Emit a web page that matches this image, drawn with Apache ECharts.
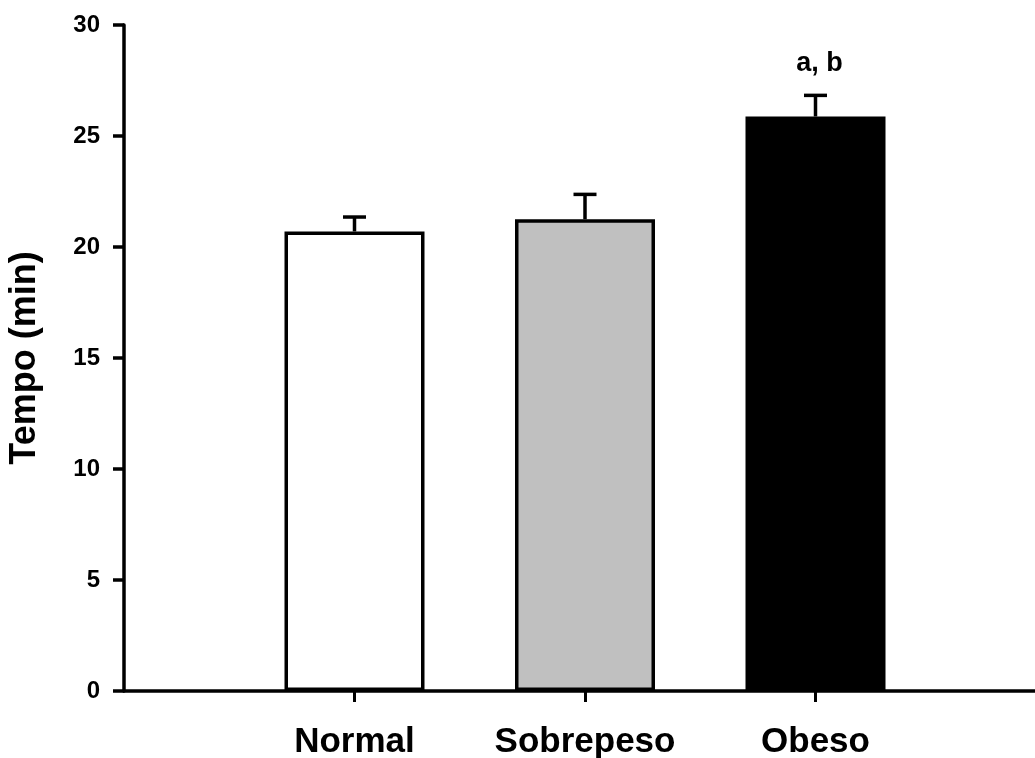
<!DOCTYPE html>
<html>
<head>
<meta charset="utf-8">
<script src="https://cdn.jsdelivr.net/npm/echarts@6/dist/echarts.min.js"></script>
<style>
  html, body { margin: 0; padding: 0; background: #ffffff; }
  #chart { width: 1035px; height: 758px; }
</style>
</head>
<body>
<div id="chart"></div>
<script>
// Groups along the x axis (placed at positions 1, 2, 3)
const categories = ['Normal', 'Sobrepeso', 'Obeso'];
// Mean time per group (min)
const meanValues = [20.7, 21.25, 25.88];
// Standard error of the mean (upper whisker only)
const semValues = [0.65, 1.12, 0.95];
// Significance letters written above each whisker
const sigLetters = ['', '', 'a, b'];
// Bar fill per group
const barColors = ['#ffffff', '#c0c0c0', '#000000'];
// Y axis ticks
const yTicks = { min: 0, max: 30, step: 5 };

const FONT = "'Liberation Sans', Arial, Helvetica, sans-serif";
const INK = '#000000';

const positions = categories.map((_, i) => i + 1);

const barData = meanValues.map((v, i) => ({
  value: [positions[i], v],
  itemStyle: { color: barColors[i], borderColor: INK, borderWidth: 3.5 }
}));

const errData = meanValues.map((v, i) => [positions[i], v, v + semValues[i], i]);

const chart = echarts.init(document.getElementById('chart'), null, { renderer: 'canvas' });

chart.setOption({
  backgroundColor: '#ffffff',
  animation: false,
  grid: { left: 124, top: 25, width: 922, height: 666, containLabel: false, outerBoundsMode: 'none' },
  xAxis: {
    type: 'value',
    min: 0,
    max: 4,
    interval: 1,
    splitLine: { show: false },
    axisLine: { show: true, onZero: false, lineStyle: { color: INK, width: 3.5 } },
    axisTick: { show: true, customValues: positions, length: 11, lineStyle: { color: INK, width: 3 } },
    axisLabel: {
      customValues: positions,
      formatter: v => categories[Math.round(v) - 1] || '',
      color: INK, fontFamily: FONT, fontWeight: 'bold', fontSize: 35, margin: 34
    }
  },
  yAxis: {
    type: 'value',
    min: yTicks.min,
    max: yTicks.max,
    interval: yTicks.step,
    name: 'Tempo (min)',
    nameLocation: 'middle',
    nameGap: 81,
    nameTextStyle: { color: INK, fontFamily: FONT, fontWeight: 'bold', fontSize: 36 },
    splitLine: { show: false },
    axisLine: { show: true, lineStyle: { color: INK, width: 3.5 } },
    axisTick: { show: true, length: 11, lineStyle: { color: INK, width: 3.5 } },
    axisLabel: { color: INK, fontFamily: FONT, fontWeight: 'bold', fontSize: 24, margin: 24 }
  },
  series: [
    {
      type: 'bar',
      barWidth: 140,
      data: barData,
      z: 2
    },
    {
      type: 'custom',
      z: 3,
      data: errData,
      renderItem: function (params, api) {
        const x = api.value(0);
        const base = api.coord([x, api.value(1)]);
        const top = api.coord([x, api.value(2)]);
        const idx = api.value(3);
        const capHalf = 11.5;
        const style = { stroke: INK, lineWidth: 3.5 };
        const children = [
          { type: 'line', shape: { x1: base[0], y1: base[1], x2: top[0], y2: top[1] }, style: style },
          { type: 'line', shape: { x1: top[0] - capHalf, y1: top[1], x2: top[0] + capHalf, y2: top[1] }, style: style }
        ];
        const letter = sigLetters[idx];
        if (letter) {
          children.push({
            type: 'text',
            style: {
              text: letter, x: top[0] + 4, y: top[1] - 18,
              align: 'center', verticalAlign: 'bottom',
              fill: INK, font: 'bold 27px ' + FONT
            }
          });
        }
        return { type: 'group', children: children };
      }
    }
  ]
});
</script>
</body>
</html>
